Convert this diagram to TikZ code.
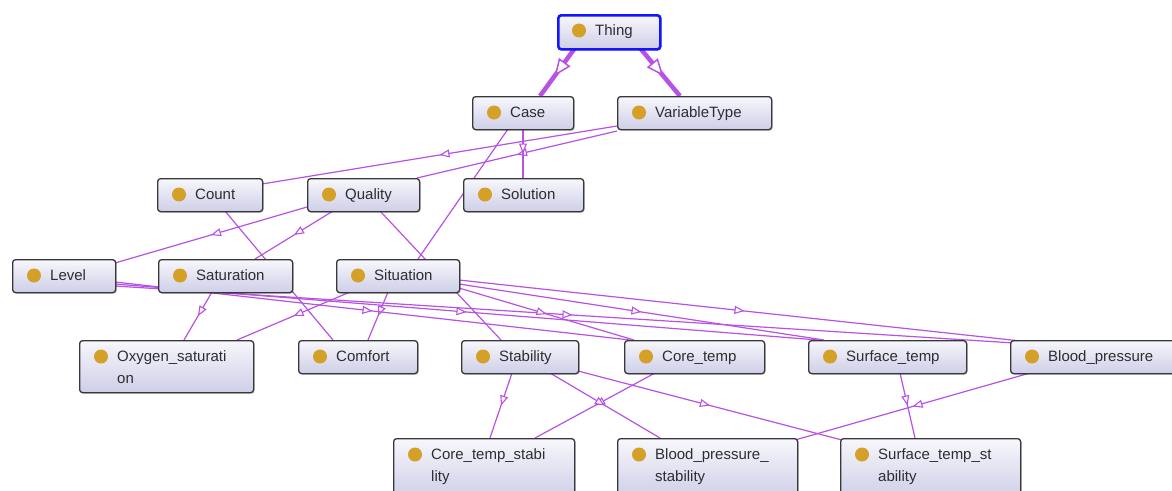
\documentclass[tikz,border=0pt]{standalone}
\usepackage{fontspec}
\setmainfont{Liberation Sans}
\usetikzlibrary{arrows.meta,decorations.markings,calc,shadows}
\definecolor{edgec}{RGB}{184,82,228}
\definecolor{dotc}{RGB}{212,160,40}
\definecolor{boxtop}{RGB}{247,247,252}
\definecolor{boxbot}{RGB}{206,206,232}
\definecolor{boxline}{RGB}{55,55,60}
\definecolor{txtc}{RGB}{45,45,50}
\definecolor{thingblue}{RGB}{20,20,255}
\pgfdeclarelayer{bg}
\pgfdeclarelayer{edges}
\pgfsetlayers{bg,edges,main}
\tikzset{
  clsbox/.style={draw=boxline, line width=1.3pt, rounded corners=3pt,
    top color=boxtop, bottom color=boxbot, inner sep=0pt,
    drop shadow={shadow xshift=1pt,shadow yshift=-1pt,opacity=0.25,fill=black}},
  clslabel/.style={inner sep=0pt, text=txtc, font=\fontsize{15}{22}\selectfont},
  isa/.style={draw=edgec, line width=1.2pt, postaction={decorate},
    decoration={markings, mark=at position 0.5 with {\arrow{Triangle[length=10pt,width=8pt,fill=white,line width=1.1pt]}}}},
  isathick/.style={draw=edgec, line width=4.5pt, postaction={decorate},
    decoration={markings, mark=at position 0.58 with {\arrow{Triangle[length=17pt,width=14pt,fill=white,line width=1.5pt]}}}},
}
\newcommand\owlclass[7][]{%
  \node[clsbox,#1, minimum width=#5pt, minimum height=#6pt, anchor=north west] (#2) at (#3,#4) {};
  \fill[dotc] ($(#2.north west)+(22,16.5)$) circle (7pt);
  \node[clslabel, anchor=base west] (#2-t) at ($(#2.north west)+(38,21.5)$)
    {\begin{tabular}[t]{@{}l@{}}#7\end{tabular}};
}
\begin{document}
\begin{tikzpicture}[x=1pt,y=-1pt]
\useasboundingbox (0,0) rectangle (1172,490);
\begin{pgfonlayer}{bg}
  \fill[white] (0,0) rectangle (1172,490);
\end{pgfonlayer}

\owlclass[draw=thingblue,line width=2.6pt]{thing}{557}{14}{102}{34}{Thing}
\owlclass{case}{472}{96}{101}{33}{Case}
\owlclass{vt}{617}{96}{154}{33}{VariableType}
\owlclass{count}{157}{178}{105}{33}{Count}
\owlclass{quality}{307}{178}{112}{33}{Quality}
\owlclass{solution}{463}{178}{120}{33}{Solution}
\owlclass{level}{12}{259}{103}{33}{Level}
\owlclass{saturation}{158}{259}{134}{33}{Saturation}
\owlclass{situation}{336}{259}{123}{33}{Situation}
\owlclass{oxy}{79}{340}{174}{52}{Oxygen\_saturati\\on}
\owlclass{comfort}{298}{340}{119}{33}{Comfort}
\owlclass{stability}{461}{340}{117}{33}{Stability}
\owlclass{coretemp}{624}{340}{140}{33}{Core\_temp}
\owlclass{surftemp}{808}{340}{158}{33}{Surface\_temp}
\owlclass{bp}{1010}{340}{165}{33}{Blood\_pressure}
\owlclass{cts}{393}{438}{181}{60}{Core\_temp\_stabi\\lity}
\owlclass{bps}{617}{438}{180}{60}{Blood\_pressure\_\\stability}
\owlclass{sts}{840}{438}{180}{60}{Surface\_temp\_st\\ability}

\begin{pgfonlayer}{edges}
  \draw[isathick] ($(thing.north west)+(18,34)$) -- ($(case.north west)+(68,0)$);
  \draw[isathick] ($(thing.north west)+(83,34)$) -- ($(vt.north west)+(63,0)$);
  \draw[isa] ($(vt.north west)+(0,30)$) -- ($(count.north west)+(105,6)$);
  \draw[isa] ($(vt.north west)+(0,35)$) -- ($(quality.north west)+(110,0)$);
  \draw[isa] ($(case.north west)+(51,33)$) -- ($(solution.north west)+(60,0)$);
  \draw[isa] ($(case.north west)+(36,33)$) -- ($(situation.north west)+(82,0)$);
  \draw[isa] ($(quality.north west)+(0,29)$) -- ($(level.north west)+(103,4)$);
  \draw[isa] ($(quality.north west)+(26,33)$) -- ($(saturation.north west)+(97,0)$);
  \draw[isa] ($(quality.north west)+(73,33)$) -- ($(stability.north west)+(40,0)$);
  \draw[isa] ($(count.north west)+(68,33)$) -- ($(comfort.north west)+(35,0)$);
  \draw[isa] ($(saturation.north west)+(54,33)$) -- ($(oxy.north west)+(105,0)$);
  \draw[isa] ($(situation.north west)+(14,33)$) -- ($(oxy.north west)+(158,0)$);
  \draw[isa] ($(situation.north west)+(52,33)$) -- ($(comfort.north west)+(70,0)$);
  \draw[isa] ($(level.north west)+(103,23)$) -- ($(coretemp.north west)+(6,0)$);
  \draw[isa] ($(level.north west)+(103,25)$) -- ($(surftemp.north west)+(10,0)$);
  \draw[isa] ($(level.north west)+(103,27)$) -- ($(bp.north west)+(20,4)$);
  \draw[isa] ($(situation.north west)+(123,29)$) -- ($(coretemp.north west)+(10,0)$);
  \draw[isa] ($(situation.north west)+(123,25)$) -- ($(surftemp.north west)+(16,0)$);
  \draw[isa] ($(situation.north west)+(123,21)$) -- ($(bp.north west)+(20,2)$);
  \draw[isa] ($(stability.north west)+(51,33)$) -- ($(cts.north west)+(97,0)$);
  \draw[isa] ($(coretemp.north west)+(31,33)$) -- ($(cts.north west)+(142,0)$);
  \draw[isa] ($(stability.north west)+(89,33)$) -- ($(bps.north west)+(43,0)$);
  \draw[isa] ($(stability.north west)+(117,31)$) -- ($(sts.north west)+(2,2)$);
  \draw[isa] ($(surftemp.north west)+(92,33)$) -- ($(sts.north west)+(75,0)$);
  \draw[isa] ($(bp.north west)+(20,33)$) -- ($(bps.north west)+(178,2)$);
\end{pgfonlayer}
\end{tikzpicture}
\end{document}
